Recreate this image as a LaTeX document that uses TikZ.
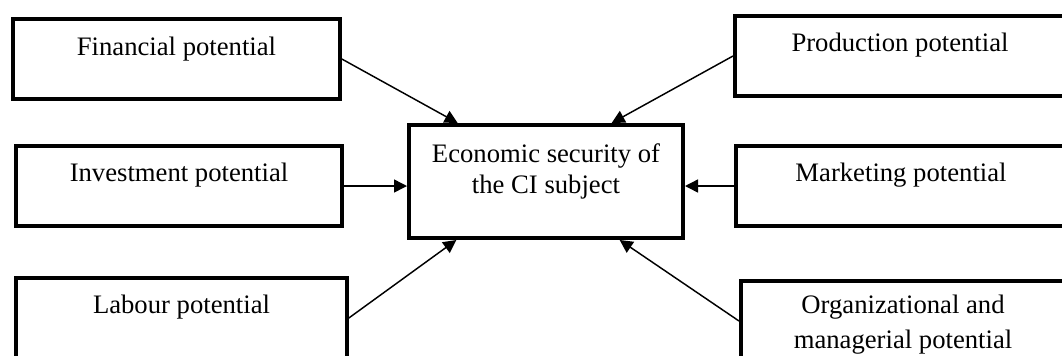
\documentclass[tikz,border=0pt]{standalone}
\usepackage{fontspec}
\setmainfont{Liberation Serif}
\usetikzlibrary{arrows.meta, positioning}

\begin{document}
\begin{tikzpicture}[x=0.75pt,y=0.75pt,yscale=-1,xscale=1,
  potbox/.style={draw, line width=3pt, minimum width=245pt, minimum height=60pt, inner sep=0pt},
  boxtext/.style={inner sep=0pt, align=center, font=\fontsize{20pt}{23.25pt}\selectfont},
  feed/.style={line width=1.1pt, -{Triangle[length=9.75pt,width=9.75pt]}}]
\useasboundingbox (0,0) rectangle (1062,355);

%Boxes, left column
\node [potbox] (fin) at (176.5,59) {};
\node [potbox] (inv) at (179,186) {};
\node [potbox, minimum width=248pt] (lab) at (181.5,318) {};
%Boxes, right column
\node [potbox, minimum width=247.5pt] (prod) at (900,56) {};
\node [potbox, minimum width=247.5pt] (mark) at (901,186) {};
\node [potbox, minimum width=243pt] (org) at (903,321) {};
%Centre box
\node [potbox, minimum width=205.5pt, minimum height=84.75pt] (eco) at (546,181.5) {};

% Text in the boxes (base = last line)
\node [boxtext, below=28.5pt of fin.north, anchor=base] (fintext) {Financial potential};
\node [boxtext, below=28pt of inv.north, anchor=base] (invtext) {Investment potential};
\node [boxtext, below=27.75pt of lab.north, anchor=base] (labtext) {Labour potential};
\node [boxtext, below=27.75pt of prod.north, anchor=base] (prodtext) {Production potential};
\node [boxtext, below=28pt of mark.north, anchor=base] (marktext) {Marketing potential};
\node [boxtext, below=51.75pt of org.north, anchor=base] (orgtext) {Organizational and\\[3pt]managerial potential};
\node [boxtext, below=52.5pt of eco.north, anchor=base] (ecotext) {Economic security of\\the CI subject};

% Arrows into the centre box
\draw [feed] (fin.east) -- ([xshift=38pt]eco.north west);
\draw [feed] (prod.west) -- ([xshift=-55pt]eco.north east);
\draw [feed] (inv.east) -- (inv.east -| eco.west);
\draw [feed] (mark.west) -- (mark.west -| eco.east);
\draw [feed] (lab.east) -- ([xshift=37pt]eco.south west);
\draw [feed] (org.west) -- ([xshift=-49pt]eco.south east);

\end{tikzpicture}
\end{document}
